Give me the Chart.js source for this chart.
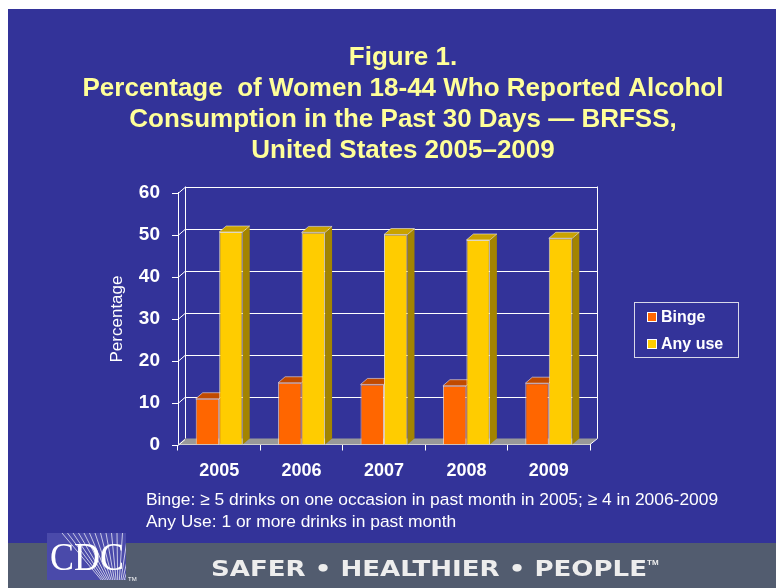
<!DOCTYPE html>
<html>
<head>
<meta charset="utf-8">
<script src="https://cdn.jsdelivr.net/npm/chart.js@4.4.1/dist/chart.umd.min.js"></script>
<style>
  html, body { margin: 0; padding: 0; background: #fff; }
  canvas { display: block; }
</style>
</head>
<body>
<canvas id="chart" width="776" height="588"></canvas>
<script>
// values
const years = ["2005", "2006", "2007", "2008", "2009"]
const binge = [10.9, 14.7, 14.3, 14.0, 14.6]
const anyUse = [50.6, 50.5, 50.0, 48.7, 49.1]
const yTicks = [0, 10, 20, 30, 40, 50, 60]

const titleLines = [
  "Figure 1.",
  "Percentage  of Women 18-44 Who Reported Alcohol",
  "Consumption in the Past 30 Days \u2014 BRFSS,",
  "United States 2005\u20132009"
]
const notes = [
  "Binge: \u2265 5 drinks on one occasion in past month in 2005; \u2265 4 in 2006-2009",
  "Any Use: 1 or more drinks in past month"
]

const DX = 7, DY = 6
const sans = '"Liberation Sans", Arial, sans-serif'

// squeeze/stretch a text run so it spans w pixels
function fitText(ctx, text, x, y, w) {
  const m = ctx.measureText(text).width
  ctx.save()
  ctx.translate(x, y)
  ctx.scale(w / m, 1)
  ctx.fillText(text, 0, 0)
  ctx.restore()
}

// background, title, notes, footer band and logo
const slide = {
  id: 'slide',
  beforeDraw(chart) {
    const ctx = chart.ctx
    ctx.save()
    ctx.fillStyle = '#fff'
    ctx.fillRect(0, 0, 776, 588)
    ctx.fillStyle = '#333399'
    ctx.fillRect(8, 9, 768, 579)

    ctx.fillStyle = '#FFFF99'
    ctx.font = 'bold 26px ' + sans
    ctx.textAlign = 'center'
    ctx.textBaseline = 'alphabetic'
    const base = [65, 96, 127, 158]
    titleLines.forEach((t, i) => ctx.fillText(t, 403, base[i]))

    ctx.fillStyle = '#fff'
    ctx.font = '17.4px ' + sans
    ctx.textAlign = 'left'
    ctx.fillText(notes[0], 146, 505)
    ctx.fillText(notes[1], 146, 527)

    // footer
    ctx.fillStyle = '#525C6F'
    ctx.fillRect(8, 543, 768, 45)
    ctx.fillStyle = '#4A4AAA'
    ctx.fillRect(47, 533, 79, 47)
    ctx.save()
    ctx.beginPath()
    ctx.rect(47, 533, 79, 47)
    ctx.clip()
    ctx.strokeStyle = 'rgba(255,255,255,0.7)'
    ctx.lineWidth = 1
    for (let i = 0; i < 16; i++) {
      ctx.beginPath()
      ctx.moveTo(118, 600)
      ctx.lineTo(62 + i * 5.5, 533)
      ctx.stroke()
    }
    ctx.restore()
    ctx.fillStyle = '#fff'
    ctx.font = '40px "Liberation Serif", "Times New Roman", serif'
    ctx.textAlign = 'left'
    fitText(ctx, "CDC", 50, 570, 74)
    ctx.font = '6px ' + sans
    ctx.fillText("TM", 128, 581)

    ctx.fillStyle = '#EDEDED'
    ctx.font = '900 22px "DejaVu Sans", sans-serif'
    ctx.textAlign = 'left'
    fitText(ctx, "SAFER \u2022 HEALTHIER \u2022 PEOPLE", 211, 576, 436)
    ctx.font = 'bold 8px ' + sans
    ctx.fillText("TM", 647, 565)
    ctx.restore()
  },
  afterDraw(chart) {
    // legend
    const ctx = chart.ctx
    ctx.save()
    ctx.strokeStyle = '#d8d8e8'
    ctx.lineWidth = 1
    ctx.strokeRect(634.5, 302.5, 104, 55)
    ctx.font = 'bold 16px ' + sans
    ctx.textBaseline = 'middle'
    chart.data.datasets.forEach((ds, i) => {
      const y = 317 + i * 27
      ctx.fillStyle = '#fff'
      ctx.fillRect(647, y - 5, 10, 10)
      ctx.fillStyle = ds.backgroundColor
      ctx.fillRect(648, y - 4, 8, 8)
      ctx.fillStyle = '#fff'
      ctx.fillText(ds.label, 661, y + 1)
    })
    // y title
    ctx.translate(117, 319)
    ctx.rotate(-Math.PI / 2)
    ctx.textAlign = 'center'
    ctx.font = '17px ' + sans
    ctx.fillText("Percentage", 0, 0)
    ctx.restore()
  }
}

// back wall, floor and bar depth
const depth = {
  id: 'depth',
  beforeDatasetsDraw(chart) {
    const ctx = chart.ctx
    const { left, right, top, bottom } = chart.chartArea
    const y = chart.scales.y
    ctx.save()
    // floor
    ctx.fillStyle = '#999999'
    ctx.beginPath()
    ctx.moveTo(left, bottom)
    ctx.lineTo(left + DX, bottom - DY)
    ctx.lineTo(right + DX, bottom - DY)
    ctx.lineTo(right, bottom)
    ctx.closePath()
    ctx.fill()
    // walls
    ctx.strokeStyle = '#fff'
    ctx.lineWidth = 1
    yTicks.forEach(v => {
      const py = Math.round(y.getPixelForValue(v)) + 0.5
      ctx.beginPath()
      if (v > 0) {
        ctx.moveTo(left + DX, py - DY)
        ctx.lineTo(right + DX, py - DY)
      }
      ctx.moveTo(left - 6, py)
      ctx.lineTo(left, py)
      ctx.lineTo(left + DX, py - DY)
      ctx.stroke()
    })
    ctx.beginPath()
    ctx.moveTo(left + DX + 0.5, top - DY)
    ctx.lineTo(left + DX + 0.5, bottom - DY)
    ctx.moveTo(right + DX + 0.5, top - DY)
    ctx.lineTo(right + DX + 0.5, bottom - DY)
    ctx.lineTo(right, bottom)
    ctx.stroke()
    // sides and tops of bars
    const shades = [['#B04000', '#C04A00'], ['#A38400', '#C9A200']]
    chart.data.datasets.forEach((ds, i) => {
      chart.getDatasetMeta(i).data.forEach(el => {
        const l = el.x - el.width / 2, r = el.x + el.width / 2
        ctx.fillStyle = shades[i][0]
        ctx.beginPath()
        ctx.moveTo(r, el.y)
        ctx.lineTo(r + DX, el.y - DY)
        ctx.lineTo(r + DX, el.base - DY)
        ctx.lineTo(r, el.base)
        ctx.closePath()
        ctx.fill()
        ctx.fillStyle = shades[i][1]
        ctx.beginPath()
        ctx.moveTo(l, el.y)
        ctx.lineTo(l + DX, el.y - DY)
        ctx.lineTo(r + DX, el.y - DY)
        ctx.lineTo(r, el.y)
        ctx.closePath()
        ctx.fill()
        ctx.strokeStyle = 'rgba(255,255,255,0.5)'
        ctx.stroke()
      })
    })
    ctx.restore()
  }
}

new Chart(document.getElementById("chart"), {
  type: 'bar',
  data: {
    labels: years,
    datasets: [
      {
        label: "Binge",
        backgroundColor: "#FF6600",
        borderColor: "rgba(255, 225, 200, 0.8)",
        borderWidth: 1,
        data: binge
      },
      {
        label: "Any use",
        backgroundColor: "#FFCC00",
        borderColor: "rgba(255, 245, 200, 0.8)",
        borderWidth: 1,
        data: anyUse
      }
    ]
  },
  plugins: [slide, depth],
  options: {
    responsive: false,
    animation: false,
    devicePixelRatio: 1,
    layout: { padding: { left: 0, right: 186, top: 192.5, bottom: 103.5 } },
    datasets: { bar: { categoryPercentage: 0.57, barPercentage: 1.0 } },
    plugins: { legend: { display: false }, title: { display: false }, tooltip: { enabled: false } },
    scales: {
      x: {
        afterFit: s => { s.height = 40 },
        grid: { display: true, drawOnChartArea: false, color: '#fff', tickLength: 6 },
        border: { color: '#fff' },
        ticks: { color: '#fff', font: { family: sans, size: 18, weight: 'bold' }, padding: 10 }
      },
      y: {
        min: 0, max: 60,
        afterFit: s => { s.width = 178 },
        afterBuildTicks: s => { s.ticks = yTicks.map(v => ({ value: v })) },
        grid: { display: false },
        border: { display: true, color: '#fff' },
        ticks: { color: '#fff', font: { family: sans, size: 19, weight: 'bold' }, padding: 10 }
      }
    }
  }
})
</script>
</body>
</html>
